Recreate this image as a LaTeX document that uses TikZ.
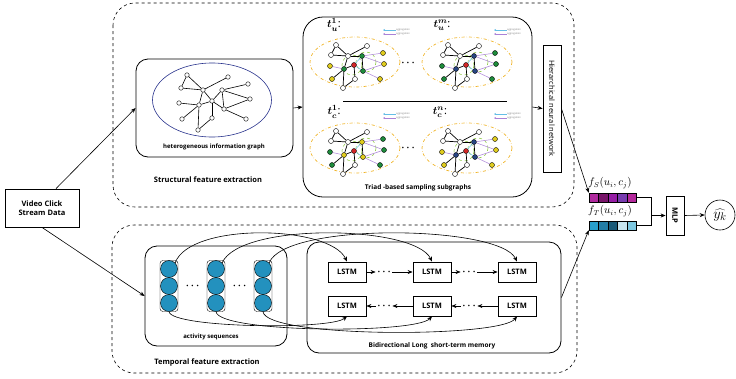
\documentclass[tikz,border=0pt]{standalone}
\usepackage{fontspec}
\setmainfont{Open Sans}
\usepackage{xcolor}
\definecolor{GraphRing}{RGB}{40,50,140}
\definecolor{TriadOrange}{RGB}{240,180,40}
\definecolor{HopGreen}{RGB}{150,205,80}
\definecolor{NodeGreen}{RGB}{30,140,60}
\definecolor{NodeYellow}{RGB}{225,205,30}
\definecolor{NodeRed}{RGB}{210,40,40}
\definecolor{NodeBlue}{RGB}{40,70,130}
\definecolor{EdgePurple}{RGB}{170,130,215}
\definecolor{EdgeCyan}{RGB}{100,190,230}
\definecolor{ActBlue}{RGB}{35,145,190}
\usetikzlibrary{arrows.meta}

\tikzset{
  region/.style={draw, dashed, line width=0.6pt, rounded corners=22pt},
  panel/.style={draw, line width=0.8pt, rounded corners=12pt},
  plainbox/.style={draw, line width=0.8pt, inner sep=1pt},
  lstmbox/.style={draw, line width=0.8pt, minimum width=38, minimum height=20,
    font=\bfseries\fontsize{7.5}{9}\selectfont},
  seclabel/.style={font=\bfseries\fontsize{7.5}{9}\selectfont},
  boxlabel/.style={font=\bfseries\fontsize{6}{7}\selectfont},
  conn/.style={line width=0.6pt, -{Stealth[length=5pt, width=4pt]}},
  gnode/.style={circle, draw, fill=white, inner sep=0pt, minimum size=4.5pt},
  tnode/.style={circle, draw, inner sep=0pt, minimum size=5pt},
  tlabel/.style={inner sep=1pt, font=\fontsize{11}{12}\selectfont\boldmath},
  veclabel/.style={inner sep=1pt, font=\fontsize{10.5}{12}\selectfont},
  TriadRing/.style={draw=TriadOrange, dash dot, line width=0.7pt},
  HopRing/.style={draw=HopGreen, dashed, line width=0.6pt},
  PurpleEdge/.style={draw=EdgePurple, line width=0.5pt},
  CyanEdge/.style={draw=EdgeCyan, line width=0.5pt},
  aggtext/.style={anchor=west, inner sep=0pt, text=gray, font=\fontsize{2.5}{3}\selectfont},
  actcell/.style={circle, draw, fill=ActBlue, inner sep=0pt, minimum size=17},
  colbox/.style={draw, rounded corners=3pt, minimum width=18, minimum height=51},
  dots/.style={inner sep=1.5pt, font=\fontsize{10}{10}\selectfont\boldmath},
  vcell/.style={draw, line width=0.5pt, inner sep=0pt, minimum width=9.5, minimum height=9}
}

% one sampled triad subgraph: prefix, centre, inner colour, outer colour
\newcommand{\triadgraph}[4]{%
  \begin{scope}[shift={#2}]
    \draw[TriadRing] (0,0) ellipse [x radius=45, y radius=25];
    \draw[HopRing] (-3,3) circle [radius=10];
    \draw[HopRing] (11,0) circle [radius=10];
    \foreach \nm/\px/\py/\ncol in {a/-19/-17/white, b/-24/-7/white, c/-7/-6/white,
        d/12/-16/white, e/7/-6/#3, f/-1/3/NodeRed, g/28/-9/#4, h/29/2/#4, i/-25/4/#4,
        j/-11/7/#3, k/8/9/#3, l/-23/17/#4, m/0/17/white, n/25/17/#4, o/-12/26/white}
      \node[tnode, fill=\ncol] (#1\nm) at (\px,\py) {};
    \foreach \a/\b in {a/b, a/c, b/c, c/d, c/j, c/e, e/k, j/l, j/o, o/m, m/f, j/f}
      \draw[line width=0.7pt] (#1\a) -- (#1\b);
    \foreach \a/\b in {e/g, e/h, k/h, k/n, i/j}
      \draw[PurpleEdge] (#1\a) -- (#1\b);
    \foreach \a/\b in {f/e, f/k}
      \draw[CyanEdge] (#1\a) -- (#1\b);
  \end{scope}}

% small key of the two aggregation arrows
\newcommand{\aggkey}[2]{%
  \begin{scope}[shift={#2}]
    \node[aggtext] (#1c) at (0,0) {aggregation};
    \node[aggtext] (#1p) at (0,4) {aggregation};
    \coordinate (#1ctip) at (-13,0);
    \coordinate (#1ptip) at (-13,4);
  \end{scope}
  \draw[CyanEdge, {Stealth[length=2pt, width=2pt]}-] (#1ctip) -- (#1c.west);
  \draw[PurpleEdge, {Stealth[length=2pt, width=2pt]}-] (#1ptip) -- (#1p.west);}

\begin{document}
\begin{tikzpicture}[x=1pt, y=-1pt]
\useasboundingbox (0,0) rectangle (736,378);

% the two dashed regions
\draw[region] (113,3) rectangle (574,207);
\draw[region] (112,225) rectangle (577,373);
\node[seclabel] (structlbl) at (208,180) {Structural feature extraction};
\node[seclabel] (templbl) at (207,363) {Temporal feature extraction};

% input
\node[plainbox, minimum width=74, minimum height=38, align=center,
  font=\bfseries\fontsize{7.5}{9}\selectfont] (video) at (42,208) {Video Click\\Stream Data};

% heterogeneous information graph
\node[panel, minimum width=157, minimum height=98] (hig) at (214.5,108) {};
\draw[GraphRing, line width=0.6pt] (212,100) ellipse [x radius=59.5, y radius=37];
\foreach \nm/\px/\py in {1/187/75, 2/181/88, 3/203/90, 4/228/77, 5/222/90, 6/248/84,
    7/250/99, 8/179/103, 9/199/105, 10/212/101, 11/224/109, 12/182/119, 13/212/118,
    14/198/130, 15/246/119}
  \node[gnode] (h\nm) at (\px,\py) {};
\foreach \a/\b in {1/2, 1/3, 2/3, 3/4, 3/9, 3/10, 10/5, 5/6, 5/11, 5/7, 10/11, 11/7,
    8/9, 9/12, 9/14, 10/13, 13/14, 11/15, 9/10}
  \draw[line width=0.6pt] (h\a) -- (h\b);
\node[boxlabel] (higlbl) at (214,147) {heterogeneous information graph};

% triad-based sampling subgraphs
\node[panel, rounded corners=20pt, minimum width=229, minimum height=180] (triad) at (417.5,107) {};
\draw[line width=0.8pt] (343,101) -- (507,101);
\triadgraph{ua}{(355,62)}{NodeGreen}{NodeYellow}
\triadgraph{um}{(467,62)}{NodeBlue}{NodeGreen}
\triadgraph{ca}{(355,148)}{NodeYellow}{NodeGreen}
\triadgraph{cn}{(467,148)}{NodeBlue}{NodeYellow}
\aggkey{kua}{(396,30)}
\aggkey{kum}{(507,30)}
\aggkey{kca}{(396,114)}
\aggkey{kcn}{(507,114)}
\node[tlabel] (tua) at (334,25) {$t_u^1$:};
\node[tlabel] (tum) at (442,25) {$t_u^m$:};
\node[tlabel] (tca) at (334,112) {$t_c^1$:};
\node[tlabel] (tcn) at (440,112) {$t_c^n$:};
\node[dots] (udots) at (408,63) {$\cdots$};
\node[dots] (cdots) at (408,148) {$\cdots$};
\node[boxlabel, font=\bfseries\fontsize{6.5}{8}\selectfont] (triadlbl) at (418,188) {Triad -based sampling subgraphs};

% hierarchical neural network
\node[plainbox, minimum width=18, minimum height=127,
  font=\fontsize{7.5}{9}\selectfont] (hnn) at (552,108.5) {\rotatebox{-90}{Hierarchical neural network}};

% activity sequences
\node[panel, minimum width=142, minimum height=100] (act) at (216,296) {};
\foreach \c/\px in {1/169, 2/216, 3/263} {
  \node[colbox] (col\c) at (\px,286) {};
  \node[actcell] (act\c1) at (\px,269) {};
  \node[actcell] (act\c2) at (\px,286) {};
  \node[actcell] (act\c3) at (\px,303) {};
}
\node[dots] (adots1) at (192.5,286) {$\cdots$};
\node[dots] (adots2) at (239.5,286) {$\cdots$};
\node[boxlabel] (actlbl) at (211,337) {activity sequences};

% bidirectional LSTM
\node[panel, minimum width=254, minimum height=111] (bilstm) at (434,297.5) {};
\foreach \i/\px in {1/347, 2/432, 3/517} {
  \node[lstmbox] (lf\i) at (\px,272) {LSTM};
  \node[lstmbox] (lb\i) at (\px,306) {LSTM};
}
\node[dots] (fd1) at (384,272) {$\cdots$};
\node[dots] (fd2) at (469,272) {$\cdots$};
\node[dots] (bd1) at (384,306) {$\cdots$};
\node[dots] (bd2) at (469,306) {$\cdots$};
\draw[conn] (lf1.east) -- (fd1.west);
\draw[conn] (fd1.east) -- (lf2.west);
\draw[conn] (lf2.east) -- (fd2.west);
\draw[conn] (fd2.east) -- (lf3.west);
\draw[conn] (lb3.west) -- (bd2.east);
\draw[conn] (bd2.west) -- (lb2.east);
\draw[conn] (lb2.west) -- (bd1.east);
\draw[conn] (bd1.west) -- (lb1.east);
\node[boxlabel, font=\bfseries\fontsize{6.5}{8}\selectfont] (bilstmlbl) at (432,346) {Bidirectional Long \ short-term memory};

% sequences feed both directions
\draw[conn] (act11.north east) .. controls (190,222) and (330,225) .. (lf1.north);
\draw[conn] (act21.north east) .. controls (240,222) and (415,225) .. (lf2.north);
\draw[conn] (act31.north east) .. controls (285,222) and (500,225) .. (lf3.north);
\draw[conn] (act13.south) .. controls (172,328) and (330,330) .. (lb1.south);
\draw[conn] (act23.south) .. controls (219,333) and (415,334) .. (lb2.south);
\draw[conn] (act33.south) .. controls (266,338) and (500,338) .. (lb3.south);

% feature vectors
\foreach \i/\px/\ncol in {1/593.75/{rgb,255:red,176;green,42;blue,158},
    2/603.25/{rgb,255:red,120;green,20;blue,105}, 3/612.75/{rgb,255:red,150;green,30;blue,165},
    4/622.25/{rgb,255:red,120;green,60;blue,175}, 5/631.75/{rgb,255:red,180;green,40;blue,155}}
  \node[vcell, fill=\ncol] (fs\i) at (\px,197.5) {};
\foreach \i/\px/\ncol in {1/593.75/{rgb,255:red,40;green,160;blue,205},
    2/603.25/{rgb,255:red,35;green,125;blue,165}, 3/612.75/{rgb,255:red,25;green,90;blue,120},
    4/622.25/{rgb,255:red,200;green,230;blue,240}, 5/631.75/{rgb,255:red,125;green,200;blue,225}}
  \node[vcell, fill=\ncol] (ft\i) at (\px,225.5) {};
\node[veclabel] (fslbl) at (610,183) {$f_S(u_i,c_j)$};
\node[veclabel] (ftlbl) at (610,211) {$f_T(u_i,c_j)$};

% prediction
\node[plainbox, minimum width=18, minimum height=39,
  font=\bfseries\fontsize{7.5}{9}\selectfont] (mlp) at (675,215.5) {\rotatebox{-90}{MLP}};
\node[circle, draw, line width=0.6pt, minimum size=30, inner sep=0pt,
  font=\fontsize{15}{17}\selectfont] (out) at (720,215) {$\widehat{y_k}$};
\coordinate (merge) at (651,215.5);

% connectors
\draw[conn] ([xshift=14pt]video.north) -- (hig.west);
\draw[conn] (video.south) -- (act.west);
\draw[conn] (hig.east) -- (triad.west);
\draw[conn] (triad.east) -- (hnn.west);
\draw[conn] (hnn.east) -- (fs1.north west);
\draw[conn] (bilstm.east) -- (ft1.south west);
\draw[line width=0.6pt] (fs5.east) -| (merge);
\draw[line width=0.6pt] (ft5.east) -| (merge);
\draw[conn] (merge) -- (mlp.west);
\draw[conn] (mlp.east) -- (out.west);

\end{tikzpicture}
\end{document}
